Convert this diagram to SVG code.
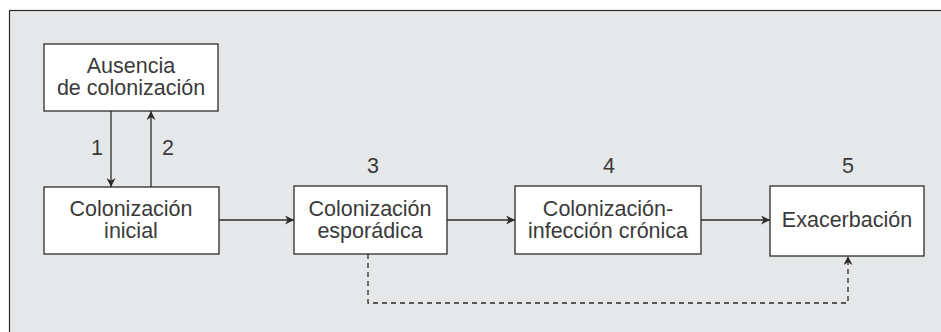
<svg xmlns="http://www.w3.org/2000/svg" width="941" height="332" viewBox="0 0 941 332">
<style>
.bg{fill:#e6e7e9;stroke:#2b2b2b;stroke-width:1.2}
.box{fill:#fff;stroke:#2b2b2b;stroke-width:1.3}
text{font-family:"Liberation Sans",Arial,sans-serif;font-size:21.5px;fill:#3a3a3a;text-anchor:middle}
.c{stroke:#2b2b2b;stroke-width:1.3;fill:none}
.d{stroke-dasharray:5,4}
</style>
<defs>
<marker id="ah" viewBox="0 0 10 10" refX="10" refY="5" markerWidth="9" markerHeight="9" markerUnits="userSpaceOnUse" orient="auto">
<path d="M0,0 L10,5 L0,10 L3,5 Z" fill="#2b2b2b"/>
</marker>
</defs>
<rect class="bg" x="9.5" y="10.5" width="940" height="330"/>
<g id="n1"><rect class="box" x="44" y="44" width="174" height="67"/><text x="131" y="73">Ausencia</text><text x="131" y="95">de colonización</text></g>
<g id="n2"><rect class="box" x="44" y="187" width="175" height="67"/><text x="131" y="216">Colonización</text><text x="131" y="238">inicial</text></g>
<g id="n3"><rect class="box" x="294" y="186" width="153" height="68"/><text x="370" y="216">Colonización</text><text x="370" y="238">esporádica</text></g>
<g id="n4"><rect class="box" x="515" y="186" width="186" height="68"/><text x="608" y="216">Colonización-</text><text x="608" y="238">infección crónica</text></g>
<g id="n5"><rect class="box" x="770" y="186" width="154" height="70"/><text x="847" y="227">Exacerbación</text></g>
<g id="labels"><text x="97" y="155">1</text><text x="168" y="155">2</text><text x="373" y="173">3</text><text x="609" y="173">4</text><text x="848" y="173">5</text></g>
<g id="connectors">
<line class="c" x1="111" y1="111" x2="111" y2="187" marker-end="url(#ah)"/>
<line class="c" x1="151" y1="187" x2="151" y2="111" marker-end="url(#ah)"/>
<line class="c" x1="219" y1="220" x2="294" y2="220" marker-end="url(#ah)"/>
<line class="c" x1="447" y1="220" x2="515" y2="220" marker-end="url(#ah)"/>
<line class="c" x1="701" y1="220" x2="770" y2="220" marker-end="url(#ah)"/>
<polyline class="c d" points="368,254 368,303 848,303 848,256" marker-end="url(#ah)"/>
</g>
</svg>
